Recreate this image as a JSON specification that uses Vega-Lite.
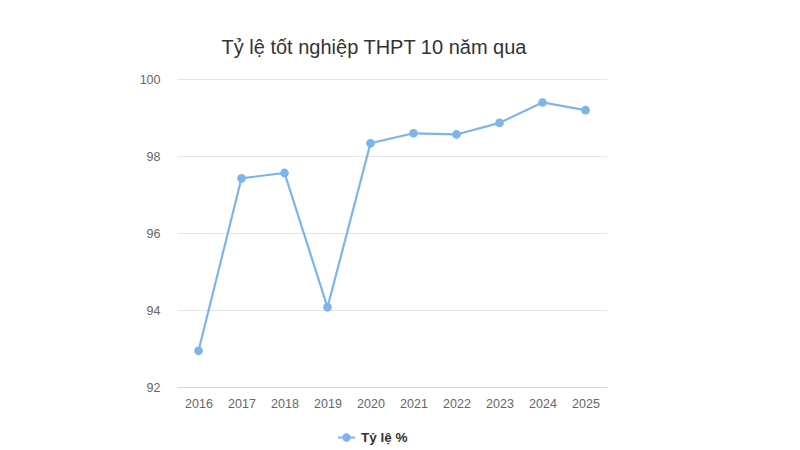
{
  "$schema": "https://vega.github.io/schema/vega-lite/v6.json",
  "description": "Tỷ lệ tốt nghiệp THPT 10 năm qua",
  "autosize": {"type": "none"},
  "width": 430,
  "height": 308,
  "padding": {"left": 177, "top": 79, "right": 193, "bottom": 63},
  "background": "white",
  "title": {
    "text": "Tỷ lệ tốt nghiệp THPT 10 năm qua",
    "font": "Liberation Sans",
    "fontSize": 20,
    "fontWeight": "normal",
    "color": "#333333",
    "anchor": "middle",
    "dx": -18,
    "offset": 15
  },
  "config": {
    "view": {"stroke": null},
    "axis": {
      "labelFont": "Liberation Sans",
      "labelFontSize": 12.5,
      "labelColor": "#666666",
      "ticks": false,
      "title": null,
      "gridColor": "#e6e6e6",
      "gridWidth": 1
    }
  },
  "data": {
    "values": [
      {"nam": "2016", "ty_le": 92.94},
      {"nam": "2017", "ty_le": 97.42},
      {"nam": "2018", "ty_le": 97.56},
      {"nam": "2019", "ty_le": 94.07},
      {"nam": "2020", "ty_le": 98.33},
      {"nam": "2021", "ty_le": 98.59},
      {"nam": "2022", "ty_le": 98.56},
      {"nam": "2023", "ty_le": 98.86},
      {"nam": "2024", "ty_le": 99.39},
      {"nam": "2025", "ty_le": 99.19}
    ]
  },
  "encoding": {
    "x": {
      "field": "nam",
      "type": "ordinal",
      "scale": {"type": "point", "padding": 0.5},
      "axis": {
        "labelAngle": 0,
        "grid": false,
        "domainColor": "#ccd6eb",
        "labelPadding": 10
      }
    },
    "y": {
      "field": "ty_le",
      "type": "quantitative",
      "scale": {"domain": [92, 100], "zero": false, "nice": false},
      "axis": {
        "values": [92, 94, 96, 98, 100],
        "domain": false,
        "labelPadding": 17
      }
    },
    "color": {
      "datum": "Tỷ lệ %",
      "type": "nominal",
      "scale": {"range": ["#7cb5ec"]},
      "legend": {
        "title": null,
        "orient": "none",
        "legendX": 161,
        "legendY": 350,
        "labelFont": "Liberation Sans",
        "labelFontSize": 13.5,
        "labelFontWeight": "bold",
        "labelColor": "#333333",
        "labelOffset": 6,
        "symbolType": "M-1,-0.13 L1,-0.13 L1,0.13 L-1,0.13 Z M0.5,0 A0.5,0.5 0 1,1 -0.5,0 A0.5,0.5 0 1,1 0.5,0 Z",
        "symbolSize": 289,
        "symbolFillColor": "#7cb5ec",
        "symbolStrokeWidth": 0,
        "symbolOpacity": 1
      }
    }
  },
  "layer": [
    {"mark": {"type": "line", "strokeWidth": 2.2}},
    {"mark": {"type": "circle", "size": 75, "opacity": 1}}
  ]
}
